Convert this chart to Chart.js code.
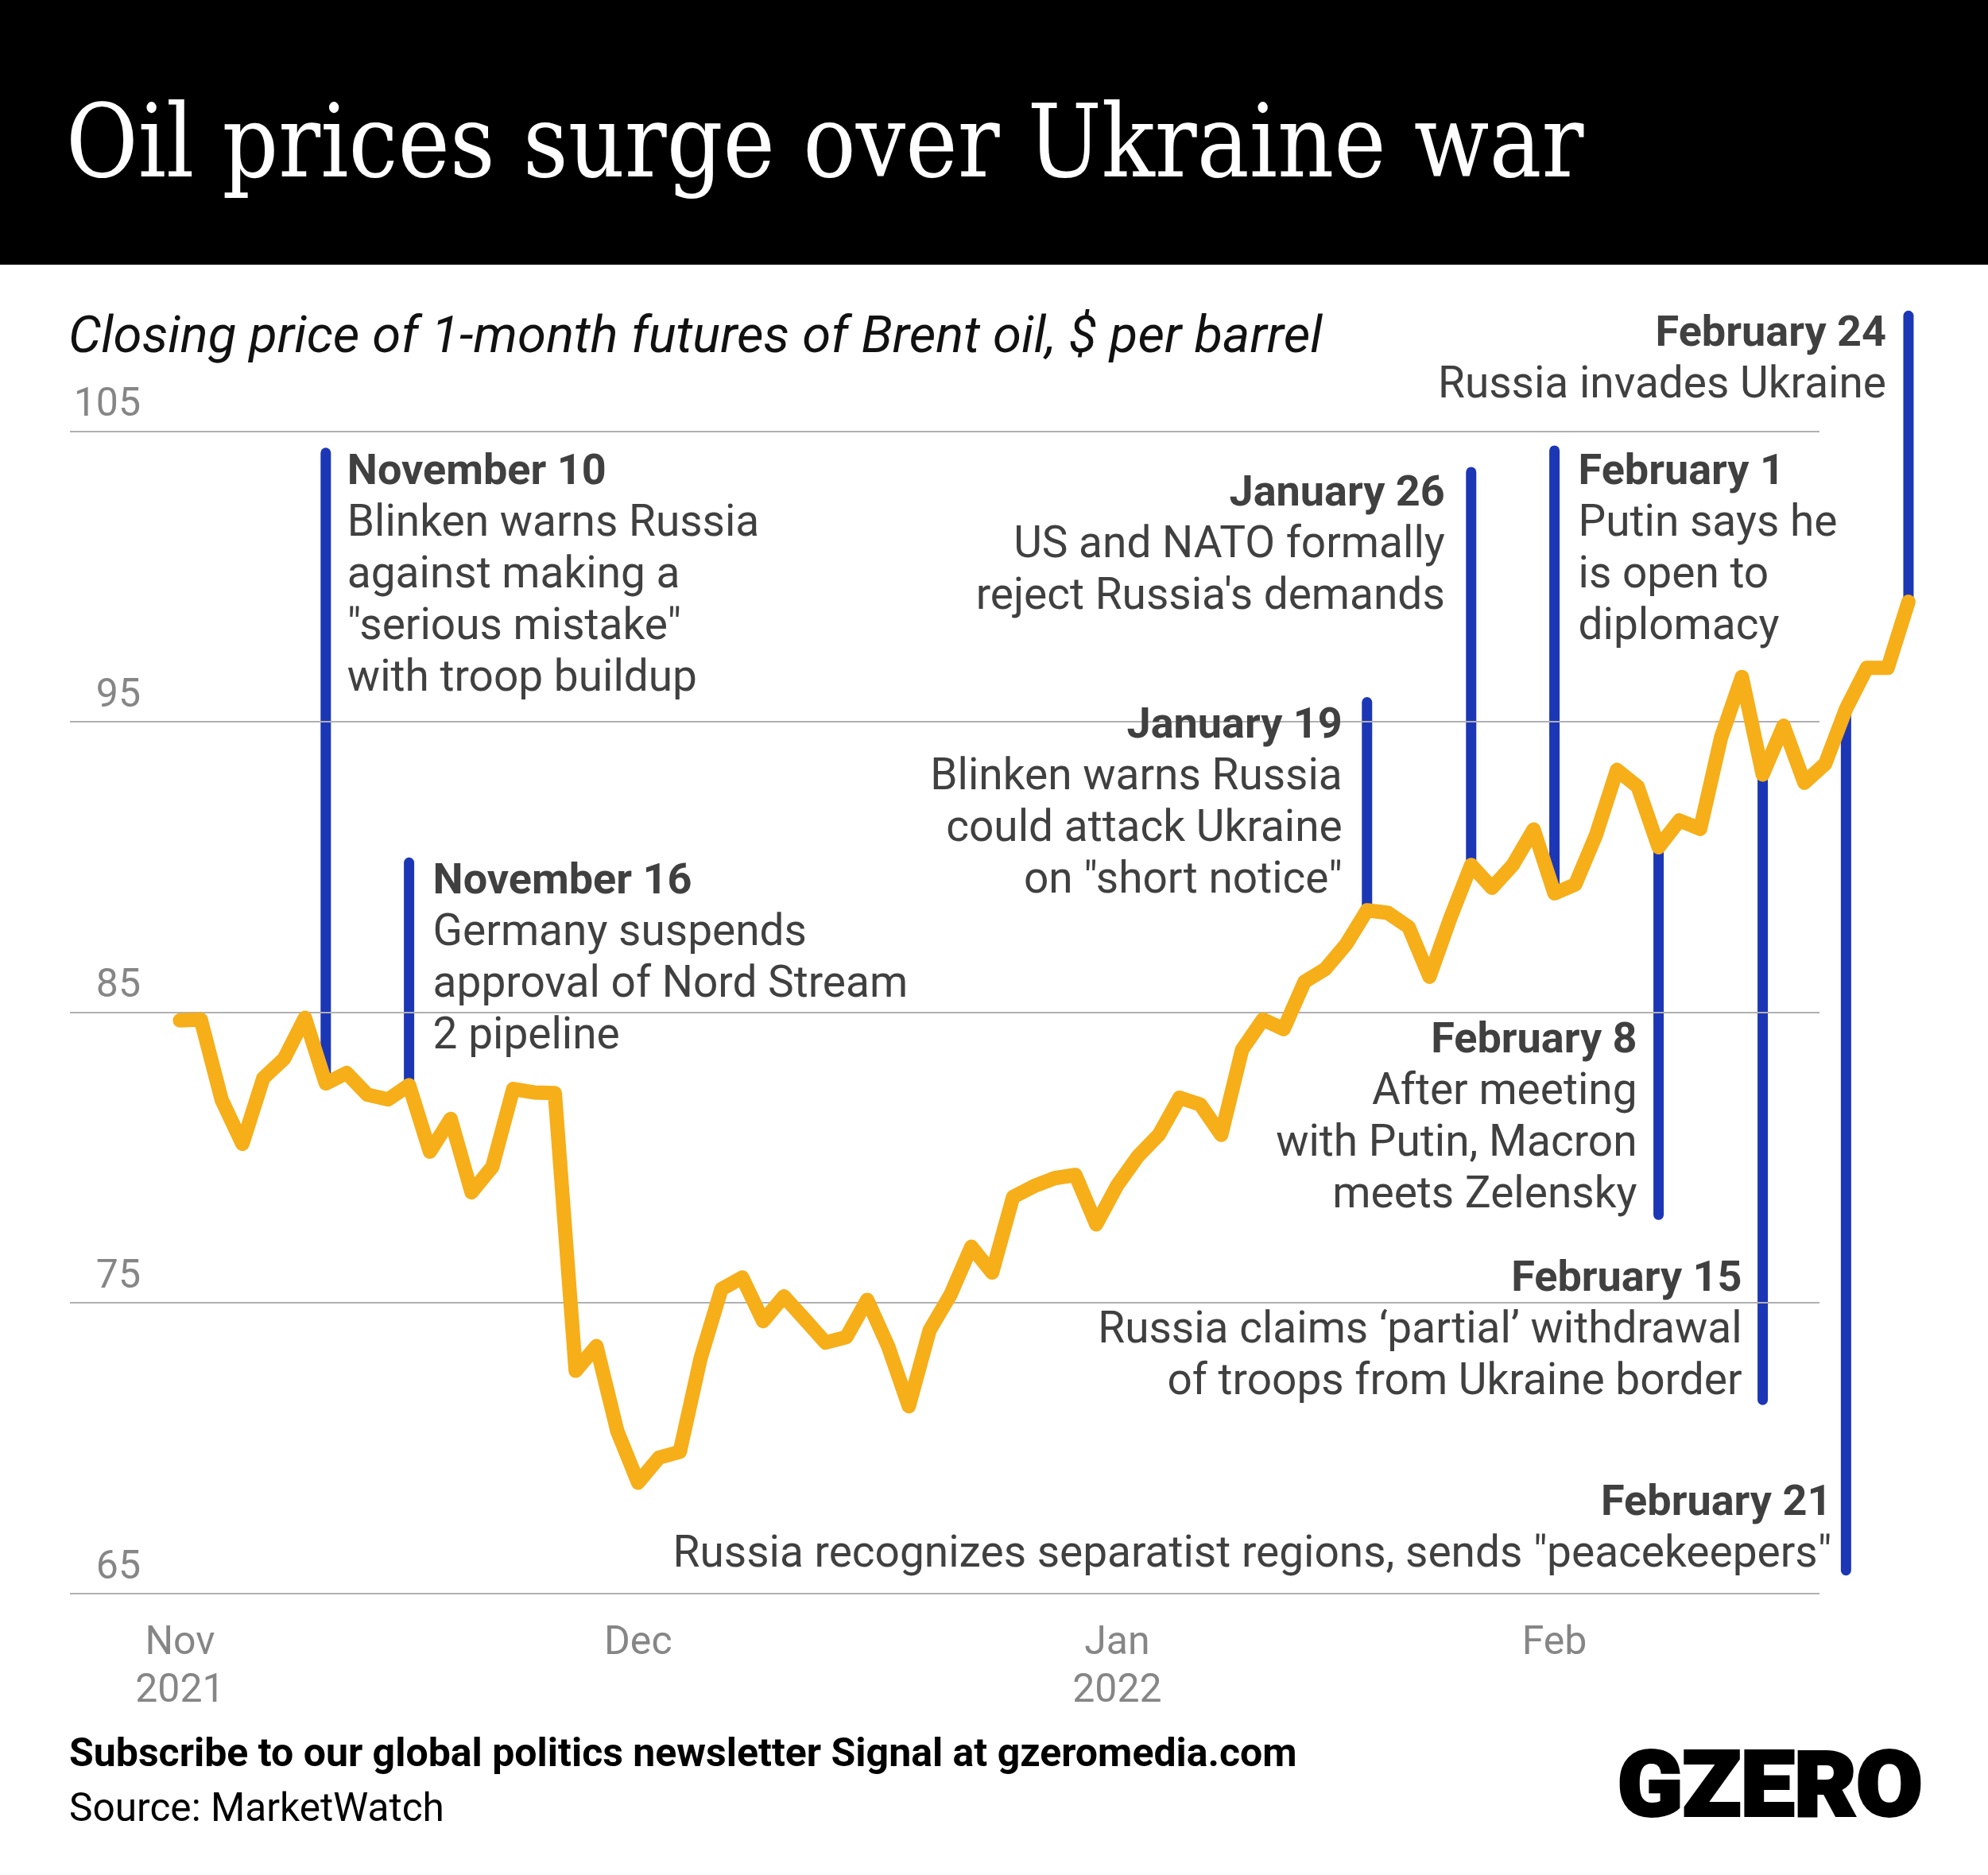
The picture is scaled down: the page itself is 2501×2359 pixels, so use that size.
<!DOCTYPE html>
<html>
<head>
<meta charset="utf-8">
<title>Oil prices surge over Ukraine war</title>
<script src="https://cdn.jsdelivr.net/npm/chart.js@4"></script>
<style>
  html, body { margin: 0; padding: 0; background: #fff; }
  #page { position: relative; width: 2501px; height: 2359px; overflow: hidden; font-family: Roboto, sans-serif; }
  #band { position: absolute; left: 0; top: 0; width: 2501px; height: 333px; background: #000; }
  #title { position: absolute; left: 83px; top: 114px; font: 400 128px/128px "DejaVu Serif", serif; color: #fff; white-space: nowrap; transform-origin: 0 0; transform: scaleX(0.864); }
  #subtitle { position: absolute; left: 86px; top: 381px; font: italic 400 65.25px/80px Roboto, sans-serif; color: #111; white-space: nowrap; }
  #cta { position: absolute; left: 87px; top: 2175px; font: 700 50px/60px Roboto, sans-serif; color: #000; white-space: nowrap; }
  #source { position: absolute; left: 87px; top: 2244px; font: 400 49.6px/60px Roboto, sans-serif; color: #000; white-space: nowrap; }
  #logo { position: absolute; left: 2035px; top: 2188px; font: 900 114px/114px Roboto, sans-serif; color: #000; white-space: nowrap; -webkit-text-stroke: 4px #000; transform-origin: 0 0; transform: scaleX(1.053); }
  canvas { position: absolute; left: 0; top: 0; }
</style>
</head>
<body>
<div id="page">
  <canvas id="oil-canvas" width="2501" height="2359"></canvas>
  <div id="band"></div>
  <div id="title">Oil prices surge over Ukraine war</div>
  <div id="subtitle">Closing price of 1-month futures of Brent oil, $ per barrel</div>
  <div id="cta">Subscribe to our global politics newsletter Signal at gzeromedia.com</div>
  <div id="source">Source: MarketWatch</div>
  <div id="logo">GZERO</div>
</div>
<script>
// weekdays, Nov 1 2021 to Feb 24 2022
const tradingDays = [
  "Nov 1","Nov 2","Nov 3","Nov 4","Nov 5","Nov 8","Nov 9","Nov 10","Nov 11","Nov 12",
  "Nov 15","Nov 16","Nov 17","Nov 18","Nov 19","Nov 22","Nov 23","Nov 24","Nov 25","Nov 26",
  "Nov 29","Nov 30","Dec 1","Dec 2","Dec 3","Dec 6","Dec 7","Dec 8","Dec 9","Dec 10",
  "Dec 13","Dec 14","Dec 15","Dec 16","Dec 17","Dec 20","Dec 21","Dec 22","Dec 23","Dec 24",
  "Dec 27","Dec 28","Dec 29","Dec 30","Dec 31","Jan 3","Jan 4","Jan 5","Jan 6","Jan 7",
  "Jan 10","Jan 11","Jan 12","Jan 13","Jan 14","Jan 17","Jan 18","Jan 19","Jan 20","Jan 21",
  "Jan 24","Jan 25","Jan 26","Jan 27","Jan 28","Jan 31","Feb 1","Feb 2","Feb 3","Feb 4",
  "Feb 7","Feb 8","Feb 9","Feb 10","Feb 11","Feb 14","Feb 15","Feb 16","Feb 17","Feb 18",
  "Feb 21","Feb 22","Feb 23","Feb 24"
];
const brentClose = [
  84.73,84.76,82.0,80.48,82.74,83.41,84.82,82.56,82.92,82.17,
  82.01,82.5,80.21,81.34,78.81,79.69,82.37,82.25,82.23,72.67,
  73.52,70.59,68.82,69.68,69.88,73.1,75.48,75.88,74.38,75.23,
  74.44,73.64,73.83,75.11,73.52,71.45,74.07,75.29,76.94,76.05,
  78.65,79.02,79.3,79.41,77.71,79.05,80.05,80.79,82.07,81.83,
  80.79,83.72,84.76,84.43,86.06,86.5,87.35,88.52,88.43,87.94,
  86.23,88.25,90.08,89.29,90.08,91.3,89.1,89.41,91.12,93.35,
  92.77,90.69,91.61,91.32,94.47,96.55,93.19,94.87,92.91,93.56,
  95.45,96.86,96.86,99.14
];
const yTicks = [65, 75, 85, 95, 105];
const monthTicks = ["Nov 1", "Dec 1", "Jan 3", "Feb 1"];
const monthLabels = [["Nov", "2021"], ["Dec"], ["Jan", "2022"], ["Feb"]];

// how far each blue stem runs from the oil line, in $ per barrel
const eventDays = ["Nov 10","Nov 16","Jan 19","Jan 26","Feb 1","Feb 8","Feb 15","Feb 21","Feb 24"];
const eventEnds = [104.26, 90.16, 95.68, 103.6, 104.34, 78.04, 71.67, 65.8, 108.98];
const eventTitles = ["November 10","November 16","January 19","January 26","February 1","February 8","February 15","February 21","February 24"];
const eventTexts = [
  ["Blinken warns Russia", "against making a", "\"serious mistake\"", "with troop buildup"],
  ["Germany suspends", "approval of Nord Stream", "2 pipeline"],
  ["Blinken warns Russia", "could attack Ukraine", "on \"short notice\""],
  ["US and NATO formally", "reject Russia's demands"],
  ["Putin says he", "is open to", "diplomacy"],
  ["After meeting", "with Putin, Macron", "meets Zelensky"],
  ["Russia claims ‘partial’ withdrawal", "of troops from Ukraine border"],
  ["Russia recognizes separatist regions, sends \"peacekeepers\""],
  ["Russia invades Ukraine"]
];

// note placement: offset from the stem and baseline of the first line, px
const noteOffsets = [27, 30, -31, -33, 30, -27, -26, -18, -28];
const noteTops = [609, 1124, 928, 636, 609, 1324, 1624, 1906, 435];
const noteFont = 55, noteBoldFont = 54, noteLeading = 65, noteColor = "#404040";
const gridLeft = 88, gridRight = 2289, gridColor = "#b0b0b0";

const dayIndex = d => tradingDays.indexOf(d);

// gridlines stop short of the plot's right edge and start left of the labels
function drawGrid(chart) {
  const { ctx, scales: { y } } = chart;
  ctx.save();
  ctx.strokeStyle = gridColor;
  ctx.lineWidth = 2;
  yTicks.forEach(v => {
    const py = Math.round(y.getPixelForValue(v));
    ctx.beginPath(); ctx.moveTo(gridLeft, py); ctx.lineTo(gridRight, py); ctx.stroke();
  });
  ctx.restore();
}

const gridAndNotes = {
  id: "gridAndNotes",
  // dataset 0 (the oil line) is painted last, so the grid lands between it and the stems
  beforeDatasetDraw(chart, args) {
    if (args.index === 0) drawGrid(chart);
  },
  afterDraw(chart) {
    const { ctx, scales: { x } } = chart;
    ctx.save();
    ctx.fillStyle = noteColor;
    ctx.textBaseline = "alphabetic";
    eventDays.forEach((d, i) => {
      const off = noteOffsets[i];
      const px = x.getPixelForValue(dayIndex(d)) + off;
      ctx.textAlign = off > 0 ? "left" : "right";
      ctx.font = `700 ${noteBoldFont}px Roboto, sans-serif`;
      ctx.fillText(eventTitles[i], px, noteTops[i]);
      ctx.font = `400 ${noteFont}px Roboto, sans-serif`;
      eventTexts[i].forEach((line, j) => {
        ctx.fillText(line, px, noteTops[i] + noteLeading * (j + 1));
      });
    });
    ctx.restore();
  }
};

const stemSets = eventDays.map((d, i) => ({
  label: eventTitles[i],
  data: [
    { x: dayIndex(d), y: brentClose[dayIndex(d)] },
    { x: dayIndex(d), y: eventEnds[i] }
  ],
  borderColor: "#1c37b5",
  borderWidth: 13,
  borderCapStyle: "round",
  pointRadius: 0,
  clip: false
}));

new Chart(document.getElementById("oil-canvas"), {
  type: "line",
  data: {
    datasets: [
      {
        label: "Brent",
        data: brentClose.map((v, i) => ({ x: i, y: v })),
        borderColor: "#f6ae19",
        borderWidth: 18,
        borderCapStyle: "round",
        borderJoinStyle: "round",
        tension: 0,
        pointRadius: 0,
        clip: false
      },
      ...stemSets
    ]
  },
  options: {
    responsive: false,
    animation: false,
    devicePixelRatio: 1,
    layout: { padding: { left: 0, right: 61, top: 360, bottom: 0 } },
    plugins: { legend: { display: false }, tooltip: { enabled: false } },
    scales: {
      x: {
        type: "linear",
        min: -1.39,
        max: 84.49,
        afterBuildTicks(scale) { scale.ticks = monthTicks.map(d => ({ value: dayIndex(d) })); },
        afterFit(scale) { scale.height = 354; },
        grid: { display: false },
        border: { display: false },
        ticks: {
          autoSkip: false,
          maxRotation: 0,
          padding: 26,
          color: "#868686",
          font: { family: "Roboto", size: 50, lineHeight: 1.19 },
          callback: v => monthLabels[monthTicks.indexOf(tradingDays[v])]
        }
      },
      y: {
        min: 65,
        max: 110,
        afterBuildTicks(scale) { scale.ticks = yTicks.map(v => ({ value: v })); },
        afterFit(scale) { scale.width = 190; },
        grid: { display: false, drawTicks: false },
        border: { display: false },
        ticks: {
          padding: 13,
          labelOffset: -32,
          color: "#868686",
          font: { family: "Roboto", size: 50 }
        }
      }
    }
  },
  plugins: [gridAndNotes]
});
</script>
</body>
</html>
